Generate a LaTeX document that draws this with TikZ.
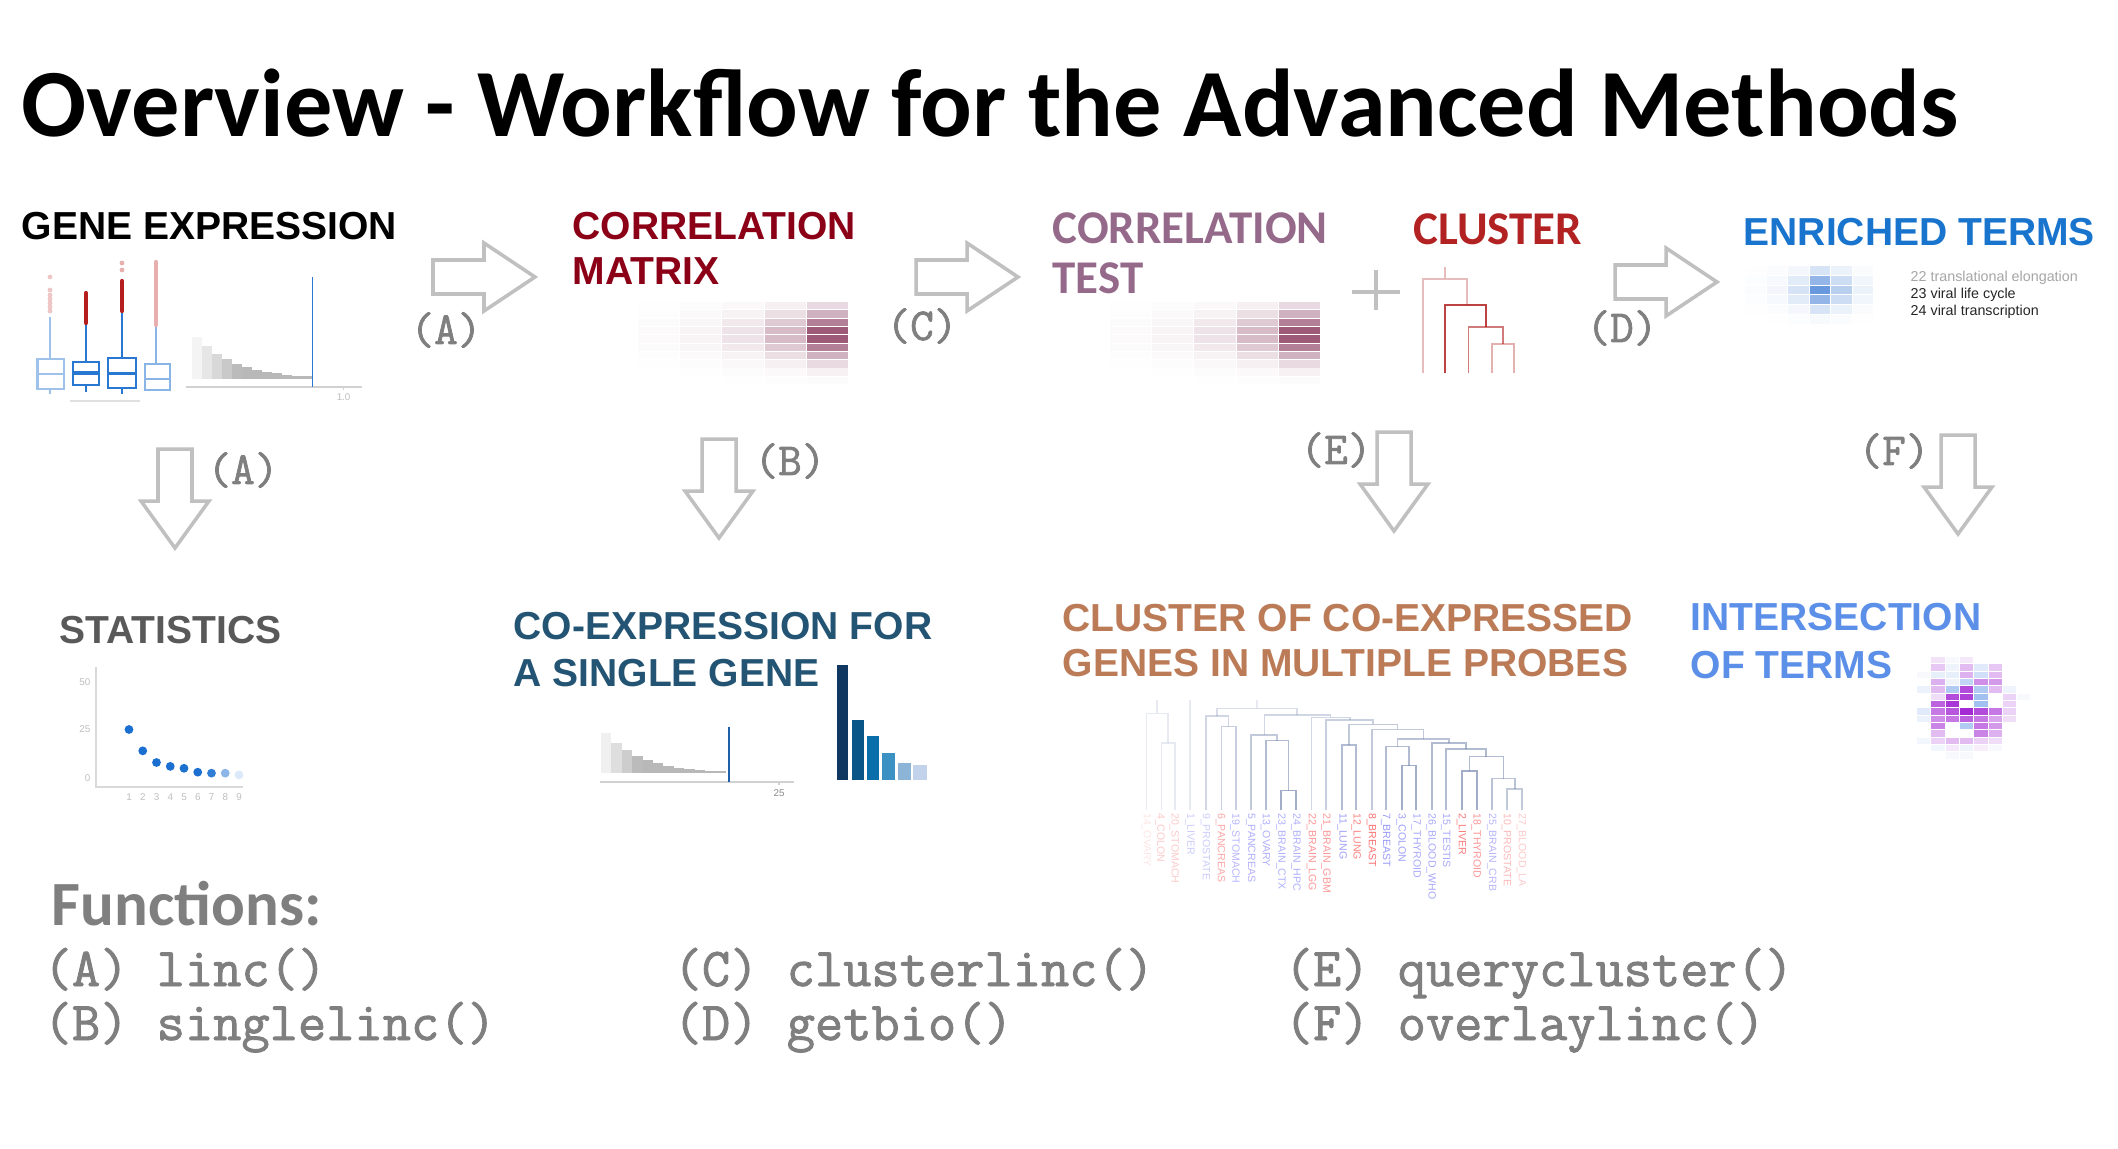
\documentclass[tikz,border=0pt]{standalone}
\usepackage{fontspec}
\setmainfont{Liberation Sans}
\newfontfamily\calfont{Carlito}
\newfontfamily\courfont{Latin Modern Mono}[FakeBold=1.6]

\definecolor{corrmat}{RGB}{139,0,22}
\definecolor{corrtest}{RGB}{148,105,138}
\definecolor{clustred}{RGB}{178,34,34}
\definecolor{enrich}{RGB}{24,116,205}
\definecolor{statgray}{RGB}{89,89,89}
\definecolor{coexp}{RGB}{36,84,115}
\definecolor{clustorange}{RGB}{188,123,87}
\definecolor{interblue}{RGB}{91,143,232}
\definecolor{labgray}{RGB}{127,127,127}
\definecolor{arrowgray}{RGB}{192,192,192}
\definecolor{boxblue}{RGB}{40,120,210}
\definecolor{outred}{RGB}{180,30,30}
\definecolor{outpink}{RGB}{232,175,175}
\definecolor{corrcell}{RGB}{120,30,70}
\definecolor{enrichcell}{RGB}{50,115,210}
\definecolor{pcell}{RGB}{160,32,210}
\definecolor{bcell}{RGB}{100,150,230}
\definecolor{dotblue}{RGB}{26,111,209}
\definecolor{dendro}{RGB}{100,120,165}
\definecolor{leafred}{RGB}{250,80,80}
\definecolor{leafblue}{RGB}{110,110,250}

\begin{document}
\begin{tikzpicture}[x=0.01cm, y=-0.01cm,
    head/.style={anchor=north west, inner sep=0pt, align=left, font=\fontsize{11.1}{12.8}\selectfont\bfseries},
    calhead/.style={anchor=north west, inner sep=0pt, align=left, font=\calfont\fontsize{13.35}{14.2}\selectfont\bfseries},
    steplabel/.style={inner sep=0pt, text=labgray, font=\courfont\fontsize{13}{14}\selectfont\bfseries},
    func/.style={anchor=base west, inner sep=0pt, text=labgray, font=\courfont\fontsize{15.6}{17}\selectfont\bfseries},
    blockarrow/.style={draw=arrowgray, fill=white, line width=1pt},
    ticklab/.style={inner sep=0pt, text=black!25, font=\fontsize{2.8}{3}\selectfont},
    leaf/.style={inner sep=0pt, anchor=west, rotate=-90, font=\fontsize{3}{3.5}\selectfont},
    termlab/.style={anchor=west, inner sep=0pt, font=\fontsize{4.07}{5}\selectfont},
    rarrow/.pic={\draw[blockarrow] (0,-17) -- (51,-17) -- (51,-34) -- (102,0) -- (51,34) -- (51,17) -- (0,17) -- cycle;},
    darrow/.pic={\draw[blockarrow] (-17,0) -- (17,0) -- (17,52) -- (34,52) -- (0,99) -- (-34,52) -- (-17,52) -- cycle;},
    corrmap/.pic={
      \foreach \c in {0,...,4}
        \foreach \r in {0,...,9} {
          \pgfmathsetmacro\op{0.75*exp(-0.9*(4-\c))*exp(-(\r-3.5)*(\r-3.5)/8)}
          \fill[corrcell, fill opacity=\op] (42.2*\c, 8.3*\r) rectangle ++(41.2, 7.4);
        }
    },
    enrichmap/.pic={
      \foreach \c in {0,...,5}
        \foreach \r in {0,...,5} {
          \pgfmathsetmacro\op{0.95*exp(-1.3*abs(\c-3.2))*exp(-(\r-2)*(\r-2)/3)}
          \fill[enrichcell, fill opacity=\op] (21.5*\c, 9.8*\r) rectangle ++(20.5, 8.8);
        }
    }
  ]
  \fill[white] (0,0) rectangle (2118,1148);
  \useasboundingbox (0,0) rectangle (2118,1148);

  % title
  \node[anchor=base west, inner sep=0pt, font=\calfont\fontsize{27.4}{30}\selectfont\bfseries] (title) at (21,136) {Overview - Workflow for the Advanced Methods};

  % headings
  \node[head] (geneexp) at (21,212) {GENE EXPRESSION};
  \node[head, text=corrmat] (corrmat) at (572,212) {CORRELATION\\MATRIX};
  \node[calhead, text=corrtest] (corrtest) at (1052,212) {CORRELATION\\TEST};
  \node[calhead, text=clustred] (cluster) at (1413,213) {CLUSTER};
  \node[head, text=enrich] (enriched) at (1743,218) {ENRICHED TERMS};
  \node[head, text=statgray] (stats) at (59,616) {STATISTICS};
  \node[head, text=coexp, font=\fontsize{11.1}{13.3}\selectfont\bfseries] (coexp) at (513,612) {CO-EXPRESSION FOR\\A SINGLE GENE};
  \node[head, text=clustorange, font=\fontsize{11.1}{12.7}\selectfont\bfseries] (clustmulti) at (1062,604) {CLUSTER OF CO-EXPRESSED\\GENES IN MULTIPLE PROBES};
  \node[head, text=interblue, font=\fontsize{11.1}{13.4}\selectfont\bfseries] (intersect) at (1690,603) {INTERSECTION\\OF TERMS};

  % block arrows and their labels
  \pic at (433,277) {rarrow};
  \pic at (916,277) {rarrow};
  \pic at (1615,282) {rarrow};
  \pic at (175,449) {darrow};
  \pic at (719,439) {darrow};
  \pic at (1394,432) {darrow};
  \pic at (1958,435) {darrow};
  \node[steplabel] (labA) at (446,330) {(A)};
  \node[steplabel] (labC) at (922,326) {(C)};
  \node[steplabel] (labD) at (1622,328) {(D)};
  \node[steplabel] (labAb) at (243,470) {(A)};
  \node[steplabel] (labB) at (790,461) {(B)};
  \node[steplabel] (labE) at (1336,450) {(E)};
  \node[steplabel] (labF) at (1894,451) {(F)};
  \draw[arrowgray, line width=1.1pt] (1352,292) -- (1400,292) (1376,270) -- (1376,310);

  % gene expression: boxplots
  \draw[boxblue, opacity=.45, line width=.6pt] (37.5,359) rectangle (64,389) (37.5,374) -- (64,374) (50,317) -- (50,359) (50,389) -- (50,394);
  \foreach \y in {277,290,295,299,303,307,311} \fill[outpink, opacity=.7] (50,\y) circle (2.4);
  \draw[boxblue, line width=.6pt] (73,362) rectangle (99,385) (86,325) -- (86,362) (86,385) -- (86,392);
  \draw[boxblue, line width=1pt] (73,373) -- (99,373);
  \draw[outred, line width=1.2pt, line cap=round] (86,293) -- (86,323);
  \draw[boxblue, line width=.6pt] (108,358) rectangle (136,388) (122,313) -- (122,358) (122,388) -- (122,394);
  \draw[boxblue, line width=1pt] (108,373.5) -- (136,373.5);
  \draw[outred, line width=1.2pt, line cap=round] (122,281) -- (122,311);
  \foreach \y in {263,270} \fill[outpink] (122,\y) circle (2.4);
  \draw[boxblue, opacity=.55, line width=.6pt] (145,364) rectangle (170,390) (145,379) -- (170,379) (156,327) -- (156,364);
  \draw[outpink, line width=1.2pt, line cap=round] (156,262) -- (156,325);
  \draw[black!12, line width=.4pt] (70,401) -- (140,401);
  % gene expression: histogram
  \foreach \i in {0,...,11} {
    \pgfmathsetmacro\h{42*exp(-\i/4)}
    \pgfmathsetmacro\op{min(1,0.15+0.2*\i)}
    \fill[black!28, fill opacity=\op] (192+10*\i,379) rectangle ++(10,-\h);
  }
  \draw[black!18, line width=.5pt] (186,387) -- (362,387) (343.6,387) -- (343.6,390);
  \draw[boxblue, line width=.5pt] (312.5,277) -- (312.5,387);
  \node[ticklab] (ticka) at (343.6,397) {1.0};

  % correlation matrices
  \pic at (638,302) {corrmap};
  \pic at (1110,302) {corrmap};

  % small cluster tree
  \draw[clustred, opacity=.3, line width=.5pt] (1423,373) |- (1467,279) -- (1467,305) (1445,279) -- (1445,267);
  \draw[clustred, opacity=.85, line width=.5pt] (1445,373) |- (1486,305) -- (1486,327);
  \draw[clustred, opacity=.6, line width=.5pt] (1468.6,373) |- (1503,327) -- (1503,344);
  \draw[clustred, opacity=.35, line width=.5pt] (1492,373) |- (1514,344) -- (1514,373);

  % enriched terms
  \pic at (1745,266) {enrichmap};
  \node[termlab, text=black!35] (term22) at (1910,278) {22 translational elongation};
  \node[termlab, text=black!85] (term23) at (1910,295) {23 viral life cycle};
  \node[termlab, text=black!85] (term24) at (1910,312) {24 viral transcription};

  % statistics plot
  \draw[black!15, line width=.5pt] (95.7,667) -- (95.7,787) -- (243,787);
  \node[ticklab, anchor=east] (y50) at (91,682) {50};
  \node[ticklab, anchor=east] (y25) at (91,729) {25};
  \node[ticklab, anchor=east] (y0) at (91,778) {0};
  \foreach \i in {1,...,9} \node[ticklab] (x\i) at (129+13.75*\i-13.75,797) {\i};
  \foreach \i/\v/\o in {1/25/1,2/14/1,3/8/1,4/6/1,5/5/1,6/3/1,7/2.5/.9,8/2.5/.5,9/1.6/.15}
    \fill[dotblue, opacity=\o] (129+13.75*\i-13.75,778-1.94*\v) circle (4.4);

  % co-expression for a single gene
  \foreach \i in {0,...,11} {
    \pgfmathsetmacro\h{40*exp(-\i/3.5)}
    \pgfmathsetmacro\op{min(1,0.2+0.25*\i)}
    \fill[black!28, fill opacity=\op] (601+10.4*\i,773) rectangle ++(10.4,-\h);
  }
  \draw[black!18, line width=.5pt] (600,782) -- (794,782) (779,782) -- (779,785);
  \draw[boxblue!80!black, line width=.5pt] (729,727) -- (729,782);
  \node[ticklab, text=black!45] (tickb) at (779,793) {25};
  \foreach \bx/\bw/\bt/\bc in {837/10.5/665/{15,55,95}, 852/11.6/720/{10,85,135}, 867/12/736/{10,110,170}, 882/13/753/{60,145,195}, 898/13/763/{140,180,215}, 913/14/765/{195,210,235}} {
    \definecolor{barcol}{RGB}{\bc}
    \fill[barcol] (\bx,\bt) rectangle (\bx+\bw,780);
  }

  % cluster of co-expressed genes: dendrogram
  \begin{scope}[shift={(1100,700)}, x=0.00357cm, y=-0.00333cm]
    \foreach \xl/\bl/\xr/\br/\hh/\o in {172/330/210/330/130/.15, 130/330/191/130/40/.15,
        340/330/380/330/80/.35, 297/330/360/80/48/.3, 507/330/549/330/272/.6,
        465/330/528/272/122/.5, 423/330/496/122/105/.4, 678/330/717/330/135/.5,
        845/330/885/330/197/.6, 800/330/865/197/140/.5, 1140/330/1182/330/268/.4,
        1097/330/1161/268/236/.45, 1013/330/1055/330/213/.6, 1034/213/1129/236/170/.5,
        968/330/1081/170/148/.5, 930/330/1024/148/130/.5, 833/140/977/130/118/.45,
        762/330/905/118/88/.4, 697/135/833/88/73/.4, 633/330/765/73/60/.35,
        592/330/699/60/52/.3, 460/105/645/52/45/.3, 328/48/552/45/25/.25}
      \draw[dendro, opacity=\o, line width=.45pt] (\xl,\bl) |- (\xr,\hh) -- (\xr,\br);
    \draw[dendro, opacity=.15, line width=.45pt] (160,40) -- (160,0) (252,330) -- (252,0) (440,25) -- (440,0);
    \foreach \lx/\lt/\lc/\lo in {130/14\_OVARY/leafred/.15, 168/4\_COLON/leafred/.3,
        208/20\_STOMACH/leafred/.3, 252/1\_LIVER/leafblue/.35, 295/9\_PROSTATE/leafblue/.35,
        337/6\_PANCREAS/leafred/.5, 378/19\_STOMACH/leafblue/.5, 422/5\_PANCREAS/leafblue/.55,
        463/13\_OVARY/leafblue/.55, 507/23\_BRAIN\_CTX/leafblue/.55, 549/24\_BRAIN\_HPC/leafblue/.55,
        592/22\_BRAIN\_LGG/leafred/.6, 633/21\_BRAIN\_GBM/leafred/.6, 678/11\_LUNG/leafblue/.65,
        717/12\_LUNG/leafred/.7, 760/8\_BREAST/leafred/.8, 800/7\_BREAST/leafblue/.7,
        843/3\_COLON/leafblue/.65, 885/17\_THYROID/leafblue/.6, 927/26\_BLOOD\_WHO/leafblue/.6,
        968/15\_TESTIS/leafblue/.6, 1012/2\_LIVER/leafred/.75, 1053/18\_THYROID/leafred/.6,
        1097/25\_BRAIN\_CRB/leafblue/.5, 1138/10\_PROSTATE/leafred/.4, 1180/27\_BLOOD\_LA/leafred/.3}
      \node[leaf, text=\lc, opacity=\lo] (leaf\lx) at (\lx,338) {\lt};
  \end{scope}

  % intersection of terms
  \foreach \c/\r/\k/\o in {1/0/pcell/.12, 3/0/pcell/.1, 2/0/bcell/.05,
      1/1/pcell/.25, 3/1/pcell/.3, 4/1/bcell/.2, 5/1/pcell/.25, 2/1/bcell/.1,
      0/2/bcell/.05, 1/2/bcell/.15, 2/2/bcell/.15, 3/2/pcell/.35, 4/2/bcell/.3, 5/2/pcell/.3,
      1/3/pcell/.35, 2/3/bcell/.1, 3/3/bcell/.4, 4/3/pcell/.5, 5/3/pcell/.45,
      0/4/bcell/.12, 1/4/pcell/.3, 2/4/bcell/.5, 3/4/pcell/.8, 4/4/bcell/.5, 5/4/pcell/.3, 6/4/bcell/.1,
      1/5/pcell/.15, 2/5/pcell/.8, 3/5/pcell/.85, 4/5/bcell/.6, 6/5/pcell/.2, 7/5/bcell/.05,
      1/6/pcell/.7, 2/6/pcell/.9, 4/6/bcell/.6, 6/6/pcell/.2,
      0/7/bcell/.2, 1/7/pcell/.6, 2/7/pcell/.75, 3/7/pcell/.95, 4/7/pcell/.8, 5/7/pcell/.6, 6/7/pcell/.2,
      0/8/bcell/.12, 1/8/pcell/.5, 2/8/pcell/.6, 3/8/pcell/.7, 4/8/pcell/.6, 5/8/pcell/.4, 6/8/pcell/.15,
      1/9/pcell/.55, 3/9/bcell/.5, 4/9/pcell/.6, 5/9/pcell/.45,
      1/10/pcell/.3, 4/10/pcell/.55, 5/10/pcell/.35,
      0/11/bcell/.08, 1/11/pcell/.2, 2/11/pcell/.3, 3/11/pcell/.3, 4/11/pcell/.2, 5/11/pcell/.15,
      1/12/bcell/.08, 2/12/pcell/.1, 3/12/bcell/.1, 4/12/pcell/.08, 5/12/bcell/.05,
      2/13/bcell/.05, 3/13/bcell/.05}
    \fill[\k, fill opacity=\o] (1917+14.3*\c,657+7.33*\r) rectangle ++(13.3,6.3);

  % functions
  \node[anchor=north west, inner sep=0pt, text=labgray, font=\calfont\fontsize{17.9}{20}\selectfont\bfseries] (functions) at (51,881) {Functions:};
  \node[func] (funA) at (43,986) {(A) linc()};
  \node[func] (funB) at (43,1040) {(B) singlelinc()};
  \node[func] (funC) at (673,986) {(C) clusterlinc()};
  \node[func] (funD) at (673,1040) {(D) getbio()};
  \node[func] (funE) at (1284,986) {(E) querycluster()};
  \node[func] (funF) at (1284,1040) {(F) overlaylinc()};
\end{tikzpicture}
\end{document}
